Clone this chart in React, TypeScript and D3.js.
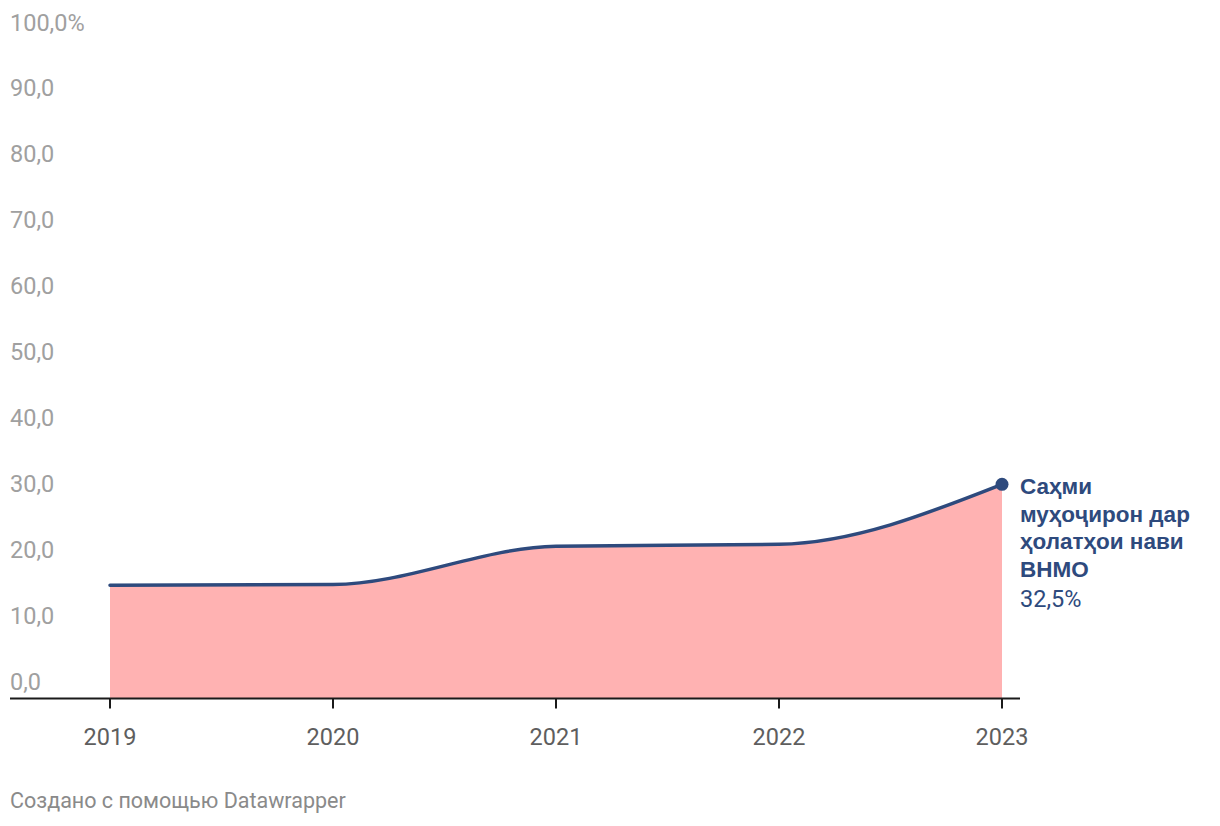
import React from "react";
import * as d3 from "d3";

const years = [2019, 2020, 2021, 2022, 2023];
const values = [17.2, 17.3, 23.1, 23.4, 32.5];
const yTicks = [0, 10, 20, 30, 40, 50, 60, 70, 80, 90, 100];
const labelLines = ["Саҳми", "муҳоҷирон дар", "ҳолатҳои нави", "ВНМО"];
const labelValue = "32,5%";
const footer = "Создано с помощью Datawrapper";

const W = 1220;
const H = 826;
const LINE = "#2e4a7d";
const FILL = "#ffb2b2";

export default function App() {
  const x = d3.scaleLinear().domain([2019, 2023]).range([110, 1002]);
  const y = d3.scaleLinear().domain([0, 100]).range([698.5, 39.5]);
  const pts = years.map((yr, i) => [yr, values[i]] as [number, number]);
  const area = d3
    .area<[number, number]>()
    .x((d) => x(d[0]))
    .y0(y(0))
    .y1((d) => y(d[1]))
    .curve(d3.curveMonotoneX);
  const line = d3
    .line<[number, number]>()
    .x((d) => x(d[0]))
    .y((d) => y(d[1]))
    .curve(d3.curveMonotoneX);
  const last = pts[pts.length - 1];
  const fmt = (v: number) => v.toFixed(1).replace(".", ",") + (v === 100 ? "%" : "");
  return (
    <svg width={W} height={H} style={{ position: "absolute", left: 0, top: 0 }}>
      <rect width={W} height={H} fill="#fff" />
      {yTicks.map((t) => (
        <text
          key={t}
          x={10}
          y={y(t) - 9}
          fill="#a0a0a0"
          fontFamily="Roboto, sans-serif"
          fontSize={23.5}
        >
          {fmt(t)}
        </text>
      ))}
      <path d={area(pts) || ""} fill={FILL} />
      <path d={line(pts) || ""} fill="none" stroke={LINE} strokeWidth={3.5} strokeLinecap="round" />
      <line x1={10} x2={1020} y1={y(0)} y2={y(0)} stroke="#1a1a1a" strokeWidth={2} />
      {years.map((yr) => (
        <g key={yr}>
          <line x1={x(yr)} x2={x(yr)} y1={y(0)} y2={y(0) + 10} stroke="#1a1a1a" strokeWidth={2} />
          <text
            x={x(yr)}
            y={745}
            textAnchor="middle"
            fill="#5e5e5e"
            fontFamily="Roboto, sans-serif"
            fontSize={23.5}
          >
            {yr}
          </text>
        </g>
      ))}
      <circle cx={x(last[0])} cy={y(last[1])} r={6.5} fill={LINE} />
      {labelLines.map((l, i) => (
        <text
          key={i}
          x={1020}
          y={494 + i * 27.5}
          fill={LINE}
          fontFamily="'Liberation Sans', Arial, sans-serif"
          fontWeight="bold"
          fontSize={22.5}
        >
          {l}
        </text>
      ))}
      <text x={1020} y={607} fill={LINE} fontFamily="Roboto, sans-serif" fontSize={23.5}>
        {labelValue}
      </text>
      <text x={10} y={808} fill="#8a8a8a" fontFamily="Roboto, sans-serif" fontSize={21.5}>
        {footer}
      </text>
    </svg>
  );
}
